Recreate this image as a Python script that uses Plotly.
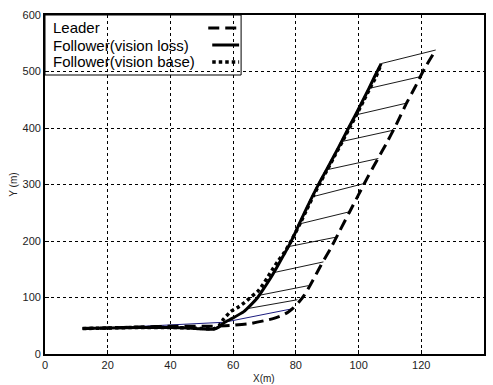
import plotly.graph_objects as go

# ---- data ----
leader_x = [12, 20, 30, 40, 50, 55, 60, 65.5, 70, 73, 75.5, 77.5, 79.3, 81, 82.8, 85, 88, 91, 94, 97, 100, 103, 106.3, 109, 112, 115.3, 118, 121, 124.6]
leader_y = [45, 46, 48, 49, 49, 49.5, 51, 54, 59, 63, 68, 74, 82, 92, 105, 126, 157, 186, 218, 250, 282, 314, 347, 374, 406, 444, 472, 505, 538]

loss_x = [12, 20, 30, 40, 46, 50, 54, 55.5, 57, 59.7, 63.4, 65.5, 67.7, 69.8, 71.9, 74, 76.1, 78, 79.6, 81.3, 83.1, 85.2, 87.4, 89.8, 92.2, 94.6, 96.8, 99.0, 101.2, 103.3, 105.2, 107.2]
loss_y = [45, 46, 47, 47, 46, 44.5, 44, 48, 55, 63, 75, 86, 99, 116, 134, 154, 175, 194, 212, 233, 254, 278, 302, 326, 351, 376, 400, 423, 447, 470, 492, 514]

base_x = [12, 20, 30, 40, 46, 50, 54, 55.5, 57, 59.2, 61.3, 63.4, 65.5, 67.7, 69.3, 70.8, 72.6, 74.4, 76.4, 78.3, 80.0, 81.7, 83.5, 85.6, 87.8, 90.2, 92.6, 95.0, 97.2, 99.4, 101.6, 103.7, 105.5, 106.9]
base_y = [45, 46, 47, 47, 46, 45, 45, 50, 62, 75, 82, 90, 100, 110, 121, 134, 150, 165, 180, 198, 216, 235, 256, 280, 304, 328, 353, 378, 401, 424, 448, 471, 490, 509]

# follower -> leader connection segments (black)
conn_fx = [107.2, 103.3, 99.0, 94.6, 89.8, 85.1, 81.0, 77.6, 72.9, 68.4, 64.2]
conn_fy = [514, 470, 423, 376, 326, 278, 230, 190, 144, 104, 80]
conn_lx = [124.6, 119.8, 115.3, 111, 106.3, 102, 97.3, 93, 88.8, 84, 80.5]
conn_ly = [538, 491, 444, 396, 346, 302, 252, 207, 163, 121, 96]

# early connection segments (navy)
early_fx = [12, 20, 57]
early_fy = [45, 46, 56]
early_lx = [40, 56.5, 78.8]
early_ly = [49, 56, 80]

x_ticks = [0, 20, 40, 60, 80, 100, 120, 140]
y_ticks = [0, 100, 200, 300, 400, 500, 600]
legend_names = ["Leader", "Follower(vision loss)", "Follower(vision base)"]


def segments(fx, fy, lx, ly):
    xs, ys = [], []
    for a, b, c, d in zip(fx, fy, lx, ly):
        xs += [a, c, None]
        ys += [b, d, None]
    return xs, ys


FONT = "Liberation Sans, Arial, Helvetica, sans-serif"

fig = go.Figure()

cx, cy = segments(conn_fx, conn_fy, conn_lx, conn_ly)
fig.add_trace(go.Scatter(x=cx, y=cy, mode="lines", line=dict(color="black", width=0.9),
                         showlegend=False, hoverinfo="skip"))
ex, ey = segments(early_fx, early_fy, early_lx, early_ly)
fig.add_trace(go.Scatter(x=ex, y=ey, mode="lines", line=dict(color="#1c1c80", width=1),
                         showlegend=False, hoverinfo="skip"))

fig.add_trace(go.Scatter(x=leader_x, y=leader_y, mode="lines", name=legend_names[0],
                         line=dict(color="black", width=3, dash="11px,6px", shape="spline", smoothing=0.5),
                         showlegend=False))
fig.add_trace(go.Scatter(x=loss_x, y=loss_y, mode="lines", name=legend_names[1],
                         line=dict(color="black", width=3, shape="spline", smoothing=0.5), showlegend=False))
fig.add_trace(go.Scatter(x=base_x, y=base_y, mode="lines", name=legend_names[2],
                         line=dict(color="black", width=3.5, dash="3.5px,3px", shape="spline", smoothing=0.5),
                         showlegend=False))

axis_common = dict(showgrid=True, gridcolor="black", griddash="dot", gridwidth=1,
                   showline=True, mirror=True, linecolor="black", linewidth=1.8,
                   ticks="inside", ticklen=4, tickcolor="black", zeroline=False,
                   tickfont=dict(family=FONT, size=11, color="#222"))

fig.update_xaxes(range=[0, 140], tickvals=x_ticks, **axis_common)
fig.update_yaxes(range=[0, 600], tickvals=y_ticks, **axis_common)

W, H = 493, 385
ml, mr, mt, mb = 45, 7, 15, 31
pw, ph = W - ml - mr, H - mt - mb


def px(x):
    return (x - ml) / pw


def py(y):
    return (H - mb - y) / ph


annotations = [
    dict(text="X(m)", x=px(265), y=py(378), xref="paper", yref="paper", showarrow=False,
         font=dict(family=FONT, size=10, color="#222"), xanchor="center", yanchor="middle"),
    dict(text="Y (m)", x=px(13), y=0.5, xref="paper", yref="paper", showarrow=False, textangle=-90,
         font=dict(family=FONT, size=10, color="#222"), xanchor="center", yanchor="middle"),
]
text_y = [28, 45, 62]
for name, ty in zip(legend_names, text_y):
    annotations.append(dict(text=name, x=px(51), y=py(ty), xref="paper", yref="paper",
                            showarrow=False, xanchor="left", yanchor="middle",
                            font=dict(family=FONT, size=15, color="black")))

shapes = [
    dict(type="rect", xref="paper", yref="paper", x0=0, x1=px(242), y0=py(75), y1=1,
         line=dict(color="black", width=1), fillcolor="rgba(0,0,0,0)", layer="above"),
    dict(type="line", xref="paper", yref="paper", x0=px(209), x1=px(240), y0=py(28), y1=py(28),
         line=dict(color="black", width=3, dash="11px,6px")),
    dict(type="line", xref="paper", yref="paper", x0=px(213), x1=px(240), y0=py(45), y1=py(45),
         line=dict(color="black", width=3)),
    dict(type="line", xref="paper", yref="paper", x0=px(213), x1=px(240), y0=py(62), y1=py(62),
         line=dict(color="black", width=3.5, dash="3.5px,3px")),
]

fig.update_layout(width=W, height=H, margin=dict(l=ml, r=mr, t=mt, b=mb),
                  paper_bgcolor="white", plot_bgcolor="white",
                  annotations=annotations, shapes=shapes, showlegend=False)

fig.write_html("out.html")
